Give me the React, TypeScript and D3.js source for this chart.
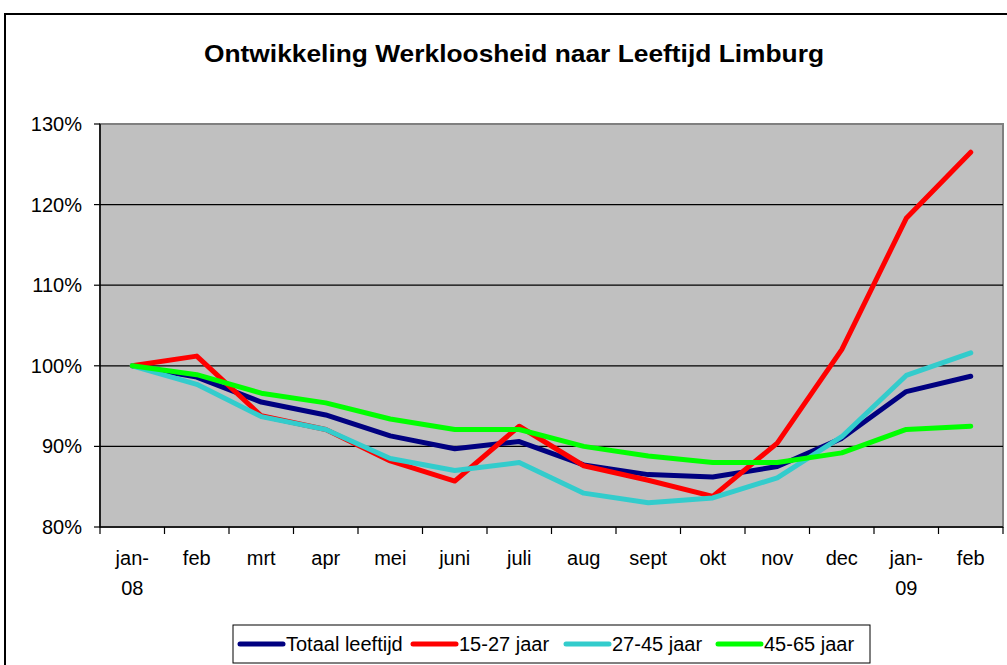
import React, { useEffect, useRef } from 'react';
import * as d3 from 'd3';

const months = ['jan-08', 'feb', 'mrt', 'apr', 'mei', 'juni', 'juli', 'aug', 'sept', 'okt', 'nov', 'dec', 'jan-09', 'feb2'];
const monthLabels = [['jan-', '08'], ['feb'], ['mrt'], ['apr'], ['mei'], ['juni'], ['juli'], ['aug'], ['sept'], ['okt'], ['nov'], ['dec'], ['jan-', '09'], ['feb']];

const totaal = [100, 98.6, 95.5, 93.9, 91.3, 89.7, 90.6, 87.7, 86.5, 86.2, 87.5, 91.0, 96.8, 98.7];
const jaar15_27 = [100, 101.2, 93.8, 92.1, 88.2, 85.7, 92.5, 87.6, 85.8, 83.8, 90.4, 102.0, 118.3, 126.5];
const jaar27_45 = [100, 97.7, 93.7, 92.1, 88.5, 87.0, 88.0, 84.2, 83.0, 83.6, 86.1, 91.2, 98.8, 101.6];
const jaar45_65 = [100, 98.9, 96.6, 95.4, 93.4, 92.1, 92.1, 90.0, 88.8, 88.0, 88.0, 89.2, 92.1, 92.5];

const yTicks = [80, 90, 100, 110, 120, 130];

const seriesNames = ['Totaal leeftijd', '15-27 jaar', '27-45 jaar', '45-65 jaar'];
const seriesColors = ['#000080', '#FF0000', '#33CCCC', '#00FF00'];
const seriesValues = [totaal, jaar15_27, jaar27_45, jaar45_65];

export default function App() {
  const svgRef = useRef<SVGSVGElement>(null);

  useEffect(() => {
    if (!svgRef.current) return;
    const width = 1007;
    const height = 665;
    const left = 100, right = 1003, top = 124, bottom = 527;
    const font = 'Liberation Sans, Arial, sans-serif';

    const svg = d3.select(svgRef.current);
    svg.selectAll('*').remove();
    svg.attr('width', width).attr('height', height);

    svg.append('rect').attr('width', width).attr('height', height).attr('fill', '#fff');
    // chart frame
    svg.append('rect')
      .attr('x', 5).attr('y', 14).attr('width', 1020).attr('height', 680)
      .attr('fill', 'none').attr('stroke', '#000').attr('stroke-width', 2);

    svg.append('text')
      .attr('x', 204).attr('y', 62)
      .attr('textLength', 620).attr('lengthAdjust', 'spacingAndGlyphs')
      .attr('font-family', font).attr('font-weight', 'bold').attr('font-size', 24)
      .text('Ontwikkeling Werkloosheid naar Leeftijd Limburg');

    const x = d3.scaleBand().domain(months).range([left, right]);
    const y = d3.scaleLinear().domain([80, 130]).range([bottom, top]);

    // plot area
    svg.append('rect')
      .attr('x', left).attr('y', top).attr('width', right - left).attr('height', bottom - top)
      .attr('fill', '#C0C0C0').attr('stroke', '#808080').attr('stroke-width', 2);

    // gridlines
    svg.append('g').selectAll('line')
      .data(yTicks.filter(t => t > 80 && t < 130))
      .enter().append('line')
      .attr('x1', left).attr('x2', right)
      .attr('y1', d => y(d)).attr('y2', d => y(d))
      .attr('stroke', '#000').attr('stroke-width', 1.2);

    // y axis
    const yAxis = svg.append('g');
    yAxis.append('line').attr('x1', left).attr('x2', left).attr('y1', top).attr('y2', bottom)
      .attr('stroke', '#000').attr('stroke-width', 1.5);
    yAxis.selectAll('line.tick').data(yTicks).enter().append('line')
      .attr('class', 'tick')
      .attr('x1', left - 6).attr('x2', left).attr('y1', d => y(d)).attr('y2', d => y(d))
      .attr('stroke', '#000').attr('stroke-width', 1.2);
    yAxis.selectAll('text').data(yTicks).enter().append('text')
      .attr('x', 82).attr('y', d => y(d)).attr('dy', '0.35em')
      .attr('text-anchor', 'end')
      .attr('font-family', font).attr('font-size', 20)
      .text(d => `${d}%`);

    // x axis
    const xAxis = svg.append('g');
    xAxis.append('line').attr('x1', left).attr('x2', right).attr('y1', bottom).attr('y2', bottom)
      .attr('stroke', '#000').attr('stroke-width', 1.5);
    const tickPos = months.map(m => x(m) as number).concat([right]);
    xAxis.selectAll('line.tick').data(tickPos).enter().append('line')
      .attr('class', 'tick')
      .attr('x1', d => d).attr('x2', d => d).attr('y1', bottom).attr('y2', bottom + 7)
      .attr('stroke', '#000').attr('stroke-width', 1.2);
    const labels = xAxis.selectAll('text').data(months).enter().append('text')
      .attr('x', d => (x(d) as number) + x.bandwidth() / 2)
      .attr('y', 565)
      .attr('text-anchor', 'middle')
      .attr('font-family', font).attr('font-size', 20);
    labels.each(function (d, i) {
      const t = d3.select(this);
      monthLabels[i].forEach((s, j) => {
        t.append('tspan')
          .attr('x', (x(d) as number) + x.bandwidth() / 2)
          .attr('dy', j === 0 ? 0 : 30)
          .text(s);
      });
    });

    // lines
    const line = d3.line<number>()
      .x((_, i) => (x(months[i]) as number) + x.bandwidth() / 2)
      .y(d => y(d));

    seriesValues.forEach((vals, i) => {
      svg.append('path')
        .datum(vals)
        .attr('d', line)
        .attr('fill', 'none')
        .attr('stroke', seriesColors[i])
        .attr('stroke-width', 5)
        .attr('stroke-linejoin', 'round')
        .attr('stroke-linecap', 'round');
    });

    // legend
    const lg = svg.append('g');
    lg.append('rect')
      .attr('x', 233).attr('y', 625).attr('width', 637).attr('height', 38)
      .attr('fill', '#fff').attr('stroke', '#000').attr('stroke-width', 1);
    const itemX = [240, 413, 566, 718];
    seriesNames.forEach((name, i) => {
      lg.append('line')
        .attr('x1', itemX[i]).attr('x2', itemX[i] + 43)
        .attr('y1', 644).attr('y2', 644)
        .attr('stroke', seriesColors[i]).attr('stroke-width', 5)
        .attr('stroke-linecap', 'round');
      lg.append('text')
        .attr('x', itemX[i] + 46).attr('y', 651)
        .attr('font-family', font).attr('font-size', 20)
        .text(name);
    });
  }, []);

  return (
    <svg ref={svgRef} style={{ position: 'absolute', left: 0, top: 0, display: 'block' }}></svg>
  );
}
